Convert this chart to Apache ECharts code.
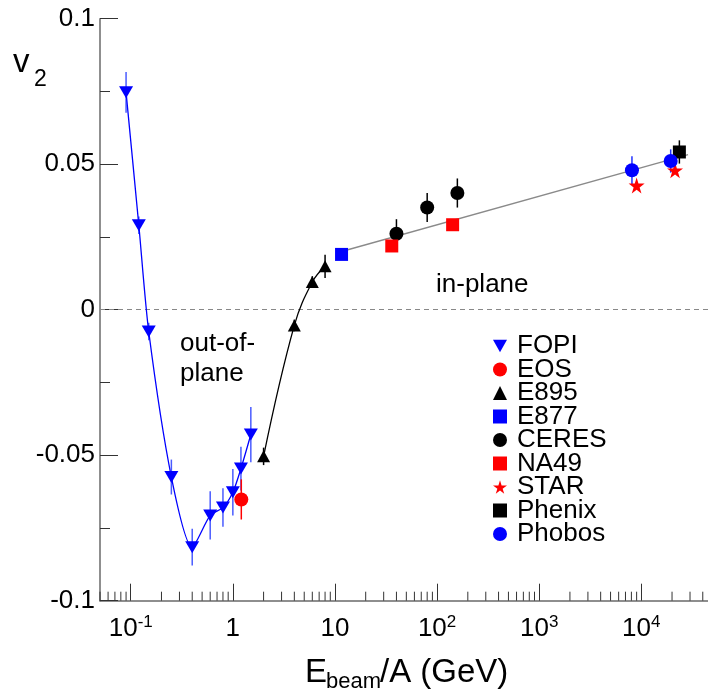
<!DOCTYPE html>
<html>
<head>
<meta charset="utf-8">
<script src="https://cdn.jsdelivr.net/npm/echarts@6/dist/echarts.min.js"></script>
<style>html,body{margin:0;padding:0;background:#fff}#c{width:708px;height:697px}</style>
</head>
<body>
<div id="c"></div>
<script>
// ---- data ----
const fopiE   = [0.09, 0.12, 0.15, 0.25, 0.40, 0.60, 0.80, 1.0, 1.2, 1.5];
const fopiV2  = [0.0747, 0.029, -0.0075, -0.0575, -0.0816, -0.0707, -0.068, -0.0627, -0.0546, -0.0429];
const fopiErr = [0.007, 0.003, 0.003, 0.006, 0.0063, 0.0083, 0.0066, 0.008, 0.0075, 0.0095];
const eosE    = [1.21];
const eosV2   = [-0.0652];
const eosErr  = [0.0069];
const e895E   = [2.0, 4.0, 6.0, 8.0];
const e895V2  = [-0.0504, -0.0054, 0.0095, 0.0149];
const e895Err = [0.003, 0.002, 0.002, 0.004];
const e877E   = [11.6];
const e877V2  = [0.019];
const ceresE  = [40, 80, 158];
const ceresV2 = [0.0261, 0.0351, 0.0401];
const ceresErr= [0.005, 0.005, 0.005];
const na49E   = [36, 142];
const na49V2  = [0.0219, 0.0292];
const starE   = [9000, 21400];
const starV2  = [0.0427, 0.0479];
const phenixE = [23600];
const phenixV2= [0.0542];
const phenixErr=[0.004];
const phobosE = [8100, 19400];
const phobosV2= [0.0479, 0.0511];
const phobosErr=[0.0048, 0.004];
const fitE    = [11.6, 28700];
const fitV2   = [0.0200, 0.0533];
const xMajorTicks = [0.1, 1, 10, 100, 1000, 10000];
const xMinorTicks = [0.05,0.06,0.07,0.08,0.09, 0.2,0.3,0.4,0.5,0.6,0.7,0.8,0.9,
  2,3,4,5,6,7,8,9, 20,30,40,50,60,70,80,90, 200,300,400,500,600,700,800,900,
  2000,3000,4000,5000,6000,7000,8000,9000, 20000,30000,40000];

// ---- build ----
const FONT = "'Liberation Sans', Arial, sans-serif";
const DOWN_TRI = 'path://M0,0L10,0L5,9Z';
const STAR = 'path://M50,0L61,35L98,35L68,57L79,91L50,70L21,91L32,57L2,35L39,35Z';
const zip = (a, b) => a.map((v, i) => [v, b[i]]);

const errGroups = [
  [fopiE, fopiV2, fopiErr, '#4a5cff'],
  [eosE, eosV2, eosErr, '#ff0000'],
  [e895E, e895V2, e895Err, '#000000'],
  [ceresE, ceresV2, ceresErr, '#000000'],
  [phenixE, phenixV2, phenixErr, '#000000'],
  [phobosE, phobosV2, phobosErr, '#2233ff']
];
const errData = [];
errGroups.forEach(g => g[0].forEach((e, i) => errData.push([e, g[1][i] - g[2][i], g[1][i] + g[2][i], g[3]])));

function scatter(name, xs, ys, symbol, size, color) {
  return { name, type: 'scatter', data: zip(xs, ys), symbol, symbolSize: size,
    itemStyle: { color, opacity: 1 }, z: 5, silent: true };
}

const chart = echarts.init(document.getElementById('c'), null, { renderer: 'canvas' });
chart.setOption({
  animation: false,
  backgroundColor: '#ffffff',
  textStyle: { fontFamily: FONT },
  grid: { left: 100, right: 0, top: 18.7, bottom: 96.3, containLabel: false },
  xAxis: {
    type: 'log', logBase: 10, min: 0.05, max: 45000,
    axisLine: { show: true, onZero: false, lineStyle: { color: '#6a6a6a', width: 1.5 } },
    axisTick: { show: true, inside: true, length: 17, customValues: xMajorTicks, lineStyle: { color: '#333', width: 1 } },
    minorTick: { show: false },
    splitLine: { show: false },
    axisLabel: {
      customValues: xMajorTicks, margin: 13, color: '#000',
      formatter: function (v) {
        const l = Math.log10(v), k = Math.round(l);
        if (Math.abs(l - k) > 1e-6) return '';
        if (k === 0) return '{b|1}';
        if (k === 1) return '{b|10}';
        return '{b|10}{s|' + k + '}';
      },
      rich: {
        b: { fontSize: 26, lineHeight: 30, fontFamily: FONT, color: '#000' },
        s: { fontSize: 17, lineHeight: 12, verticalAlign: 'top', fontFamily: FONT, color: '#000' }
      }
    }
  },
  yAxis: {
    type: 'value', min: -0.1, max: 0.1, interval: 0.05,
    axisLine: { show: true, onZero: false, lineStyle: { color: '#6a6a6a', width: 1.5 } },
    axisTick: { show: true, inside: true, length: 18, lineStyle: { color: '#333', width: 1 } },
    minorTick: { show: true, splitNumber: 2, length: 10, lineStyle: { color: '#333', width: 1 } },
    splitLine: { show: false },
    axisLabel: { fontSize: 26, fontFamily: FONT, color: '#000', margin: 5 }
  },
  legend: {
    orient: 'vertical', left: 488, top: 328, itemGap: -2.5, itemWidth: 14, itemHeight: 14,
    selectedMode: false,
    textStyle: { fontSize: 26, fontFamily: FONT, color: '#000', padding: [0, 0, 0, 5] },
    data: [
      { name: 'FOPI', icon: DOWN_TRI },
      { name: 'EOS', icon: 'circle' },
      { name: 'E895', icon: 'triangle' },
      { name: 'E877', icon: 'rect' },
      { name: 'CERES', icon: 'circle' },
      { name: 'NA49', icon: 'rect' },
      { name: 'STAR', icon: STAR },
      { name: 'Phenix', icon: 'rect' },
      { name: 'Phobos', icon: 'circle' }
    ]
  },
  graphic: [
    { type: 'text', left: 180, top: 331, style: { text: 'out-of-', font: '26px ' + FONT, fill: '#000' } },
    { type: 'text', left: 180, top: 361, style: { text: 'plane', font: '26px ' + FONT, fill: '#000' } },
    { type: 'text', left: 436, top: 272, style: { text: 'in-plane', font: '26px ' + FONT, fill: '#000' } },
    { type: 'text', left: 13, top: 46, style: { text: 'v', font: '33px ' + FONT, fill: '#000' } },
    { type: 'text', left: 34, top: 68, style: { text: '2', font: '23px ' + FONT, fill: '#000' } },
    { type: 'text', left: 305, top: 656, style: { text: 'E', font: '33px ' + FONT, fill: '#000' } },
    { type: 'text', left: 326, top: 671, style: { text: 'beam', font: '22px ' + FONT, fill: '#000' } },
    { type: 'text', left: 380, top: 656, style: { text: '/A (GeV)', font: '33px ' + FONT, fill: '#000' } }
  ],
  series: [
    {
      name: 'minorTicks', type: 'custom', silent: true, z: 1,
      data: xMinorTicks.map(v => [v, -0.1]),
      renderItem: function (params, api) {
        const p = api.coord([api.value(0), api.value(1)]);
        return { type: 'line', shape: { x1: p[0], y1: p[1], x2: p[0], y2: p[1] - 9 },
          style: { stroke: '#333', lineWidth: 1 } };
      }
    },
    {
      name: 'errors', type: 'custom', silent: true, z: 2,
      data: errData,
      renderItem: function (params, api) {
        const d = errData[params.dataIndex];
        const p1 = api.coord([d[0], d[1]]);
        const p2 = api.coord([d[0], d[2]]);
        return { type: 'line', shape: { x1: p1[0], y1: p1[1], x2: p2[0], y2: p2[1] },
          style: { stroke: d[3], lineWidth: 1.5 } };
      }
    },
    {
      name: 'fit', type: 'line', data: zip(fitE, fitV2), symbol: 'none', silent: true, z: 3,
      lineStyle: { color: '#8a8a8a', width: 1.3 },
      markLine: {
        silent: true, symbol: 'none', label: { show: false },
        lineStyle: { color: '#888', type: [5, 4], width: 1 },
        data: [{ yAxis: 0 }]
      }
    },
    {
      name: 'FOPI', type: 'line', data: zip(fopiE, fopiV2), smooth: 0.25,
      symbol: DOWN_TRI, symbolSize: [14, 12], showSymbol: true, silent: true, z: 5,
      itemStyle: { color: '#0000ff', opacity: 1 }, lineStyle: { color: '#0000ff', width: 1.3 }
    },
    scatter('EOS', eosE, eosV2, 'circle', 14, '#ff0000'),
    {
      name: 'E895', type: 'line', data: zip(e895E, e895V2), smooth: 0.4,
      symbol: 'triangle', symbolSize: [13, 12], showSymbol: true, silent: true, z: 5,
      itemStyle: { color: '#000000', opacity: 1 }, lineStyle: { color: '#000000', width: 1.3 }
    },
    scatter('E877', e877E, e877V2, 'rect', 13, '#0000ff'),
    scatter('CERES', ceresE, ceresV2, 'circle', 14, '#000000'),
    scatter('NA49', na49E, na49V2, 'rect', 13, '#ff0000'),
    scatter('STAR', starE, starV2, STAR, 16, '#ff0000'),
    scatter('Phenix', phenixE, phenixV2, 'rect', 13, '#000000'),
    scatter('Phobos', phobosE, phobosV2, 'circle', 14, '#0000ff')
  ]
});
</script>
</body>
</html>
